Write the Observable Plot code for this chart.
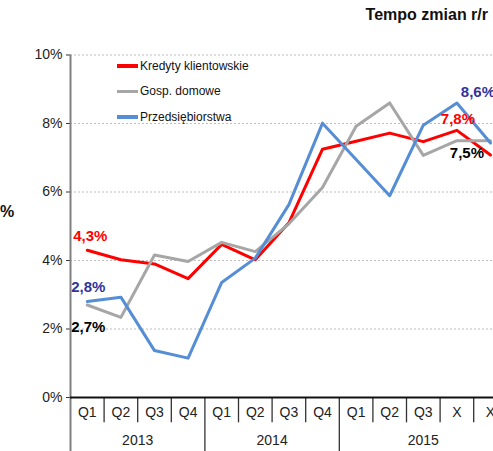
<!DOCTYPE html>
<html>
<head>
<meta charset="utf-8">
<script src="https://cdn.jsdelivr.net/npm/d3@7"></script>
<script src="https://cdn.jsdelivr.net/npm/@observablehq/plot@0.6"></script>
<style>
  html, body { margin: 0; padding: 0; background: #fff; overflow: hidden; }
  #wrap { position: relative; width: 493px; height: 451px; font-family: Arial, "Liberation Sans", sans-serif; color: #111; }
  #title { height: 40px; line-height: 30px; text-align: right; padding-right: 5px; font-weight: bold; font-size: 16px; box-sizing: border-box; }
  #pct { position: absolute; left: 0px; top: 203px; font-weight: bold; font-size: 16px; }
  #legend { position: absolute; left: 117px; top: 53px; font-size: 12px; }
  #legend .row { height: 25.5px; display: flex; align-items: center; }
  #legend .sw { width: 21px; height: 3.5px; margin-right: 2px; }
  svg { display: block; }
</style>
</head>
<body>
<div id="wrap">
  <div id="title">Tempo zmian r/r</div>
  <div id="pct">%</div>
  <div id="legend"></div>
  <div id="chart"></div>
</div>
<script>
// ---- data ----
const quarters = ["Q1","Q2","Q3","Q4","Q1","Q2","Q3","Q4","Q1","Q2","Q3","X","X"];
const years    = ["2013","2013","2013","2013","2014","2014","2014","2014","2015","2015","2015","2015","2015"];
const kredyty  = [4.3, 4.02, 3.9, 3.47, 4.47, 4.02, 5.1, 7.25, 7.48, 7.72, 7.47, 7.8, 7.08];
const gosp     = [2.7, 2.34, 4.16, 3.97, 4.53, 4.26, 5.07, 6.13, 7.92, 8.6, 7.07, 7.5, 7.5];
const przeds   = [2.8, 2.93, 1.37, 1.15, 3.36, 4.07, 5.63, 8.01, 6.95, 5.89, 7.95, 8.6, 7.43];
const seriesNames = ["Kredyty klientowskie", "Gosp. domowe", "Przedsiębiorstwa"];
const yTicks = [0, 2, 4, 6, 8, 10];

const colors = {"Kredyty klientowskie": "#ff0000", "Gosp. domowe": "#a6a6a6", "Przedsiębiorstwa": "#558ed5"};
const seriesValues = {"Kredyty klientowskie": kredyty, "Gosp. domowe": gosp, "Przedsiębiorstwa": przeds};

const idx = d3.range(quarters.length);
const rows = [];
for (const s of seriesNames) idx.forEach(i => rows.push({series: s, i, v: seriesValues[s][i]}));

const fmt = v => d3.format(".1f")(v).replace(".", ",") + "%";

// boundaries between categories
const bounds = idx.map(i => ({b: i - 0.5, yearStart: i === 0 || years[i] !== years[i - 1]}));
const yearGroups = d3.groups(idx, i => years[i]).map(([y, is]) => ({year: y, x: d3.mean(is)}));

const font = "Arial, 'Liberation Sans', sans-serif";

const chart = Plot.plot({
  width: 493,
  height: 411,
  marginLeft: 70,
  marginRight: 0,
  marginTop: 14.5,
  marginBottom: 54,
  style: {fontFamily: font, fontSize: "14px", color: "#222", overflow: "hidden"},
  x: {domain: [-0.5, quarters.length - 0.5], range: [70, 70 + 33.6 * quarters.length]},
  y: {domain: [0, 10]},
  marks: [
    Plot.gridY(yTicks.filter(d => d > 0), {stroke: "#bdbdbd", strokeOpacity: 1, strokeDasharray: "2,2"}),
    Plot.axisY({ticks: yTicks, tickFormat: d => d + "%", tickSize: 4, tickPadding: 4, fontSize: 14, label: null, stroke: "#333"}),
    Plot.axisX({ticks: idx, tickFormat: i => quarters[i], tickSize: 0, tickPadding: 10, fontSize: 14, label: null}),
    // category dividers
    Plot.ruleX(bounds.filter(d => !d.yearStart), {x: "b", y1: 0, y2: -0.74, stroke: "#333", strokeWidth: 1.3}),
    Plot.ruleX(bounds.filter(d => d.yearStart && d.b > 0), {x: "b", y1: 0, y2: -1.6, stroke: "#333", strokeWidth: 1.3}),
    Plot.ruleX([bounds[0]], {x: "b", y1: 10, y2: -1.6, stroke: "#808080", strokeWidth: 2}),
    Plot.ruleY([0], {stroke: "#111", strokeWidth: 2}),
    Plot.text(yearGroups, {x: "x", y: 0, text: "year", dy: 43, fontSize: 14}),
    // lines
    Plot.lineY(rows, {x: "i", y: "v", z: "series", stroke: d => colors[d.series], strokeWidth: 3,
      sort: (a, b) => seriesNames.indexOf(b.series) === 0 ? 0 : 0}),
    // annotations
    Plot.text([0], {x: d => d, y: i => kredyty[i], text: i => fmt(kredyty[i]), dx: 3, dy: -14, fill: "#ff0000", fontWeight: "bold", fontSize: 15}),
    Plot.text([0], {x: d => d, y: i => przeds[i], text: i => fmt(przeds[i]), dx: 1, dy: -14, fill: "#333399", fontWeight: "bold", fontSize: 15}),
    Plot.text([0], {x: d => d, y: i => gosp[i], text: i => fmt(gosp[i]), dx: 1, dy: 22, fill: "#000", fontWeight: "bold", fontSize: 15}),
    Plot.text([11], {x: d => d, y: i => kredyty[i], text: i => fmt(kredyty[i]), dx: 1, dy: -11, fill: "#ff0000", fontWeight: "bold", fontSize: 15}),
    Plot.text([11], {x: d => d, y: i => przeds[i], text: i => fmt(przeds[i]), dx: 21, dy: -11, fill: "#333399", fontWeight: "bold", fontSize: 15}),
    Plot.text([11], {x: d => d, y: i => gosp[i], text: i => fmt(gosp[i]), dx: 10, dy: 13, fill: "#000", fontWeight: "bold", fontSize: 15})
  ]
});
document.getElementById("chart").appendChild(chart);

// legend
const legend = document.getElementById("legend");
for (const s of seriesNames) {
  const row = document.createElement("div");
  row.className = "row";
  const sw = document.createElement("span");
  sw.className = "sw";
  sw.style.background = colors[s];
  const t = document.createElement("span");
  t.textContent = s;
  row.appendChild(sw);
  row.appendChild(t);
  legend.appendChild(row);
}
</script>
</body>
</html>
